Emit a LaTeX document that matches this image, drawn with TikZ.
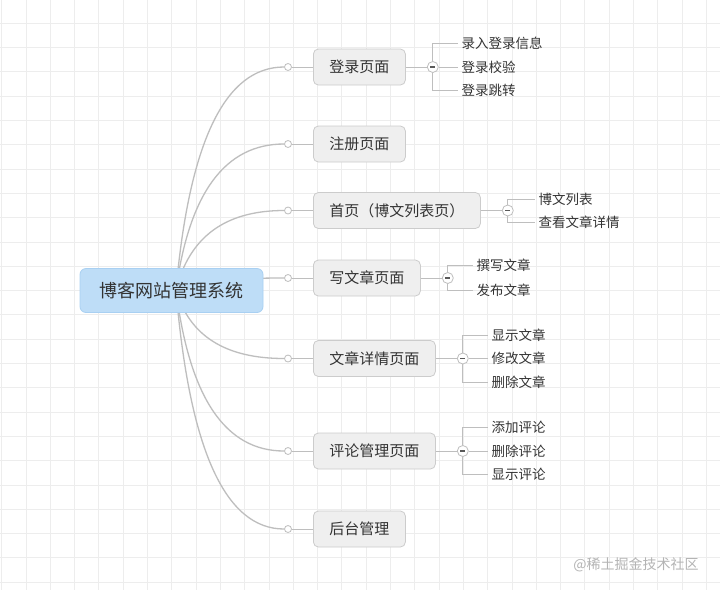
\documentclass[tikz,border=0pt]{standalone}
\usepackage{fontspec}
\setmainfont{Noto Sans CJK SC}
\usetikzlibrary{calc}
\definecolor{gridc}{HTML}{EDEDED}
\definecolor{linec}{HTML}{BEBEBE}
\definecolor{textc}{HTML}{333333}
\definecolor{rootfill}{HTML}{BEDDF7}
\definecolor{rootdraw}{HTML}{A9D0F2}
\definecolor{brfill}{HTML}{EFEFEF}
\definecolor{brdraw}{HTML}{CCCCCC}
\definecolor{wmc}{HTML}{B4B4B4}
\tikzset{
  rootbox/.style={rounded corners=6pt, fill=rootfill, draw=rootdraw, line width=0.8pt,
    minimum width=183pt, minimum height=44pt, inner sep=0pt, text=textc,
    font=\fontsize{18}{20}\selectfont},
  brbox/.style={anchor=west, rounded corners=5pt, fill=brfill, draw=brdraw, line width=0.8pt,
    minimum height=36pt, inner xsep=16pt, inner ysep=0pt, text=textc,
    font=\fontsize{15}{17}\selectfont},
  leaf/.style={anchor=west, inner xsep=3.5pt, inner ysep=0pt, text=textc,
    font=\fontsize{13.5}{15}\selectfont},
  dot/.style={circle, draw=linec, fill=white, line width=0.8pt, minimum size=7pt, inner sep=0pt},
  minus/.style={circle, draw=linec, fill=white, line width=0.8pt, minimum size=11pt, inner sep=0pt,
    path picture={\draw[black!65, line width=1.2pt] ($(path picture bounding box.center)+(-2.6pt,0pt)$) -- ++(5.2pt,0pt);}},
  curve/.style={draw=linec, line width=1.3pt},
  conn/.style={draw=linec, line width=0.9pt},
  wm/.style={text=wmc, font=\fontsize{14}{16}\selectfont}
}
\begin{document}
\begin{tikzpicture}[x=1pt,y=-1pt]
\useasboundingbox (0,0) rectangle (720,590);
\fill[white] (0,0) rectangle (720,590);
\foreach \i in {0,...,29} \draw[gridc, line width=0.9pt] ({1.7+24.3*\i},0) -- ++(0,590);
\foreach \j in {1,...,24} \draw[gridc, line width=0.9pt] (0,{-1+24.3*\j}) -- ++(720,0);

% dots
\foreach \n/\y in {d1/67,d2/144,d3/210.5,d4/278,d5/358.5,d6/451,d7/529}
  \node[dot] (\n) at (288,\y) {};
% curves from root
\coordinate (rc) at (176,290);
\foreach \n/\y in {d1/67,d2/144,d3/210.5,d4/278,d5/358.5,d6/451,d7/529}
  \draw[curve] (rc) .. controls +(13.3,{(\y-290)*2/3}) and +(-59,0) .. (\n.west);

% root
\node[rootbox] (root) at (171.5,290.5) {博客网站管理系统};

% branches
\node[brbox] (b1) at (313,67) {登录页面};
\node[brbox] (b2) at (313,144) {注册页面};
\node[brbox] (b3) at (313,210.5) {首页（博文列表页）};
\node[brbox] (b4) at (313,278) {写文章页面};
\node[brbox] (b5) at (313,358.5) {文章详情页面};
\node[brbox] (b6) at (313,451) {评论管理页面};
\node[brbox] (b7) at (313,529) {后台管理};
\foreach \i in {1,...,7} \draw[conn] (d\i.east) -- (b\i.west);

% login children
\node[minus] (m1) at ($(b1.east)+(27,0)$) {};
\node[leaf] (c11) at ($(m1)+(25,-24)$) {录入登录信息};
\node[leaf] (c12) at ($(m1)+(25,0)$) {登录校验};
\node[leaf] (c13) at ($(m1)+(25,23.5)$) {登录跳转};
\draw[conn] (b1.east) -- (m1.west);
\draw[conn] (m1.north) |- (c11.west);
\draw[conn] (m1.east) -- (c12.west);
\draw[conn] (m1.south) |- (c13.west);

% home children
\node[minus] (m3) at ($(b3.east)+(27,0)$) {};
\node[leaf] (c31) at ($(m3)+(27,-11.5)$) {博文列表};
\node[leaf] (c32) at ($(m3)+(27,11.5)$) {查看文章详情};
\draw[conn] (b3.east) -- (m3.west);
\draw[conn] (m3.north) |- (c31.west);
\draw[conn] (m3.south) |- (c32.west);

% write children
\node[minus] (m4) at ($(b4.east)+(27,0)$) {};
\node[leaf] (c41) at ($(m4)+(25,-12.5)$) {撰写文章};
\node[leaf] (c42) at ($(m4)+(25,12.5)$) {发布文章};
\draw[conn] (b4.east) -- (m4.west);
\draw[conn] (m4.north) |- (c41.west);
\draw[conn] (m4.south) |- (c42.west);

% detail children
\node[minus] (m5) at ($(b5.east)+(27,0)$) {};
\node[leaf] (c51) at ($(m5)+(25,-23.5)$) {显示文章};
\node[leaf] (c52) at ($(m5)+(25,0)$) {修改文章};
\node[leaf] (c53) at ($(m5)+(25,23.5)$) {删除文章};
\draw[conn] (b5.east) -- (m5.west);
\draw[conn] (m5.north) |- (c51.west);
\draw[conn] (m5.east) -- (c52.west);
\draw[conn] (m5.south) |- (c53.west);

% comment children
\node[minus] (m6) at ($(b6.east)+(27,0)$) {};
\node[leaf] (c61) at ($(m6)+(25,-23.5)$) {添加评论};
\node[leaf] (c62) at ($(m6)+(25,0)$) {删除评论};
\node[leaf] (c63) at ($(m6)+(25,23.5)$) {显示评论};
\draw[conn] (b6.east) -- (m6.west);
\draw[conn] (m6.north) |- (c61.west);
\draw[conn] (m6.east) -- (c62.west);
\draw[conn] (m6.south) |- (c63.west);

% watermark
\node[wm] (wm) at (636,565) {@稀土掘金技术社区};
\end{tikzpicture}
\end{document}
